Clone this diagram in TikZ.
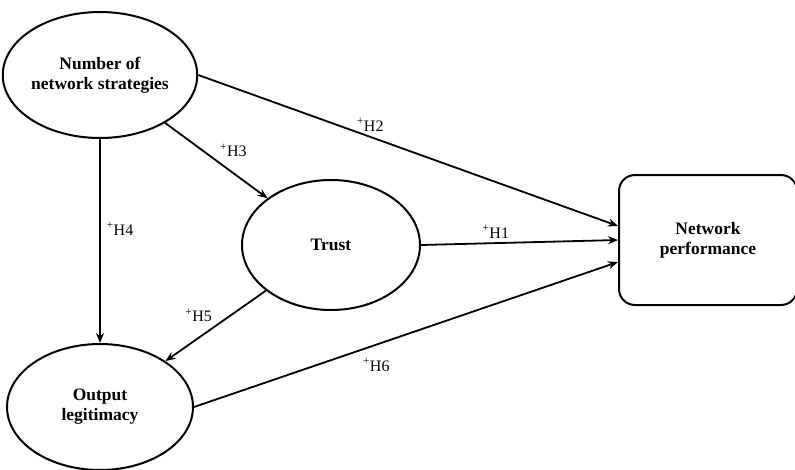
\documentclass[tikz,border=0pt]{standalone}
\usepackage{fontspec}
\setmainfont{Liberation Serif}
\usetikzlibrary{shapes.geometric, arrows.meta, calc}
\tikzstyle{lat}=[ellipse,draw,line width=2pt,minimum width=186pt,minimum height=126pt,inner sep=0pt,align=center,font=\fontsize{17.5}{20}\selectfont\bfseries]
\tikzstyle{obs}=[rectangle,draw,rounded corners=16pt,line width=2pt,minimum width=178pt,minimum height=130pt,align=center,font=\fontsize{17.5}{20}\selectfont\bfseries]
\tikzstyle{arr}=[line width=1.8pt,-{Stealth[length=10pt,width=8pt]}]
\tikzstyle{hyp}=[font=\fontsize{16}{18}\selectfont,inner sep=2pt]

\begin{document}
\begin{tikzpicture}[x=1pt,y=-1pt]
    \useasboundingbox (0,0) rectangle (795,469);
    \node[lat] (strat) at (100,75) {Number of\\network strategies};
    \node[lat,minimum width=178pt,minimum height=130pt] (trust) at (331,245) {Trust};
    \node[lat] (outl) at (100,407) {Output\\legitimacy};
    \node[obs] (perf) at (708,240) {Network\\performance};
    % entry points on the box
    \coordinate (in2) at ($(perf.west)+(0,-14)$);
    \coordinate (in6) at ($(perf.west)+(0,22)$);
    \foreach \s/\e/\p/\l/\d/\n in {strat.east/in2/.41/above/3pt/H2, strat/trust/.5/above right/1pt/H3, strat.south/outl.north/.44/right/4pt/H4, trust.east/perf.west/.38/above/2pt/H1, trust/outl/.5/above left/1pt/H5, outl.east/in6/.43/below/11pt/H6} {
        \draw[arr] (\s) -- node[hyp,pos=\p,\l=\d] {\textsuperscript{+}\n} (\e);}
\end{tikzpicture}
\end{document}
